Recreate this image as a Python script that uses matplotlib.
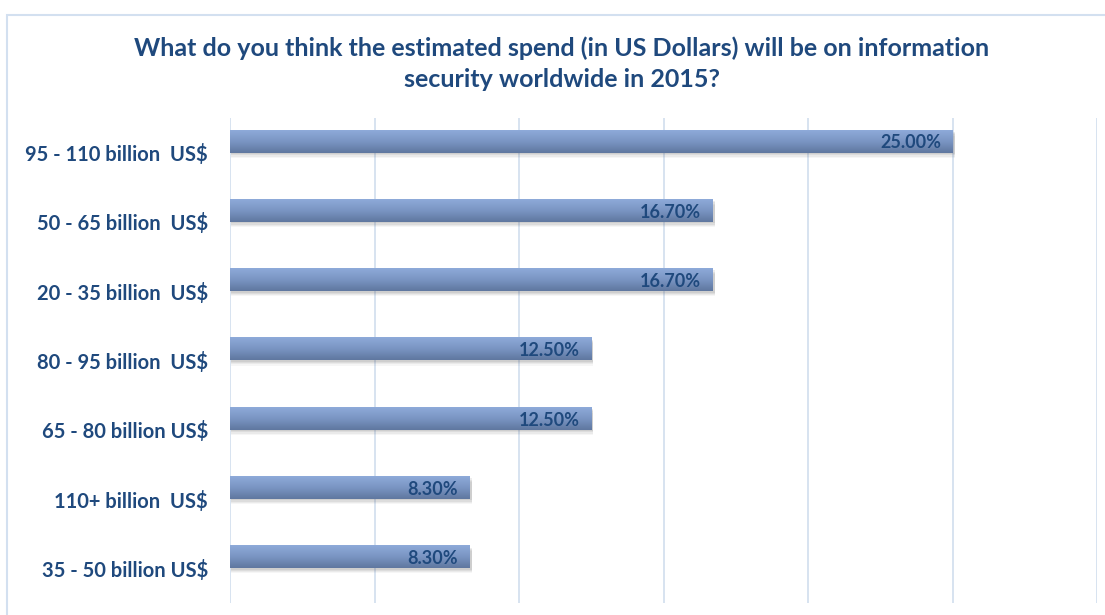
import numpy as np
import matplotlib.pyplot as plt
from matplotlib.colors import LinearSegmentedColormap
from matplotlib.patches import Rectangle

categorias = ["95 - 110 billion  US$", "50 - 65 billion  US$", "20 - 35 billion  US$",
              "80 - 95 billion  US$", "65 - 80 billion US$", "110+ billion  US$",
              "35 - 50 billion US$"]
valores = [25.0, 16.7, 16.7, 12.5, 12.5, 8.3, 8.3]
etiquetas = ["25.00%", "16.70%", "16.70%", "12.50%", "12.50%", "8.30%", "8.30%"]

titulo = ("What do you think the estimated spend (in US Dollars) will be on information\n"
          "security worldwide in 2015?")

azul = "#1f497d"
plt.rcParams['font.family'] = ['Lato', 'DejaVu Sans']

fig = plt.figure(figsize=(11.05, 6.15), dpi=100)
fig.patches.append(Rectangle((7 / 1105, -0.05), 1.1, 1 - 15 / 615 + 0.05,
                             transform=fig.transFigure, fill=False,
                             edgecolor="#d3e0f0", linewidth=1.5))
ax = fig.add_axes([230 / 1105, 12 / 615, 867 / 1105, 485 / 615])

# degradado vertical de cada barra
cmap = LinearSegmentedColormap.from_list("barra", ["#8eaad9", "#7a95c3", "#5f779f"])
grad = np.linspace(0, 1, 64).reshape(-1, 1)
alto = 0.32

for i, v in enumerate(valores):
    y0 = i - alto  # barra desplazada hacia arriba dentro de su categoria
    # sombra difusa
    for k, a in enumerate([0.10, 0.09, 0.07, 0.05]):
        d = 0.02 + 0.018 * k
        ax.add_patch(Rectangle((0.03, y0 + d), v + 0.04, alto, facecolor="#555555",
                               alpha=a, edgecolor="none", zorder=2))
    ax.imshow(grad, cmap=cmap, extent=(0, v, i, y0), aspect="auto",
              interpolation="bicubic", zorder=3)
    ax.text(v - 0.4, y0 + alto * 0.56, etiquetas[i], ha="right", va="center",
            fontsize=13, fontweight="bold", color=azul, zorder=4)

ax.set_xlim(0, 30)
ax.set_ylim(len(valores) - 0.5, -0.5)
ax.set_xticks(np.arange(0, 31, 5))
ax.set_xticklabels([])
ax.grid(axis="x", color="#d4e0ef", linewidth=1.3, zorder=0)
ax.set_yticks(range(len(categorias)))
ax.set_yticklabels(categorias, fontsize=14.5, fontweight="bold", color=azul)
ax.tick_params(length=0, pad=16)
for s in ax.spines.values():
    s.set_visible(False)

fig.text(562 / 1105, 1 - 64 / 615, titulo, ha="center", va="center",
         fontsize=18, fontweight="bold", color=azul, linespacing=1.42)

fig.savefig("out.png", dpi=100)
